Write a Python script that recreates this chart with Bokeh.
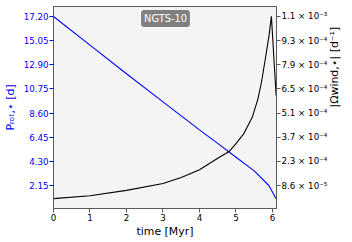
import math
from bokeh.plotting import figure
from bokeh.models import Range1d, LinearAxis, FixedTicker, Label
from bokeh.embed import file_html
from bokeh.resources import INLINE

# --- data ---
time_prot = [0.0, 1.0, 2.0, 3.0, 4.0, 4.5, 5.0, 5.5, 5.9, 6.1]
p_rot = [17.2, 14.65, 12.1, 9.6, 7.1, 5.9, 4.67, 3.45, 2.15, 0.97]

time_omega = [0.0, 1.0, 2.0, 3.0, 3.5, 4.0, 4.5, 4.81, 5.0, 5.22, 5.45, 5.6, 5.7, 5.81, 5.91, 5.97, 6.1]
omega_wind = [8.6e-6, 2.6e-5, 5.7e-5, 9.7e-5, 1.32e-4, 1.78e-4, 2.45e-4, 2.84e-4, 3.3e-4,
              3.9e-4, 4.86e-4, 5.9e-4, 6.9e-4, 8.33e-4, 9.68e-4, 1.074e-3, 6.1e-4]

x_ticks = [0, 1, 2, 3, 4, 5, 6]
left_ticks = [2.15, 4.30, 6.45, 8.60, 10.75, 12.90, 15.05, 17.20]
left_labels = ["2.15", "4.30", "6.45", "8.60", "10.75", "12.90", "15.05", "17.20"]
right_ticks = [8.55e-5, 2.265e-4, 3.675e-4, 5.085e-4, 6.495e-4, 7.905e-4, 9.315e-4, 1.0725e-3]
right_labels = ["8.6 × 10⁻⁵", "2.3 × 10⁻⁴", "3.7 × 10⁻⁴", "5.1 × 10⁻⁴",
                "6.5 × 10⁻⁴", "7.9 × 10⁻⁴", "9.3 × 10⁻⁴", "1.1 × 10⁻³"]
title_text = "NGTS-10"
x_label = "time [Myr]"
left_label = "Pᵣₒₜ,⋆ [d]"
right_label = "|Ωwind,⋆| [d⁻¹]"

FONT = "DejaVu Sans"
SPINE = "#5a5a5a"
TICK_FS = "8.7px"
LABEL_FS = "10.9px"

p = figure(width=352, height=242, output_backend="svg", toolbar_location=None,
           x_range=Range1d(0, 6.11), y_range=Range1d(0.102, 18.09),
           min_border_left=52, min_border_right=76, min_border_top=6, min_border_bottom=34)
p.background_fill_color = "#f4f4f4"
p.border_fill_color = "white"
p.outline_line_color = SPINE
p.xgrid.visible = False
p.ygrid.visible = False


def style_axis(ax, label, standoff, color=SPINE, label_color="black", tick_color=SPINE):
    ax.major_label_text_font = FONT
    ax.major_label_text_font_size = TICK_FS
    ax.major_label_text_color = label_color
    ax.major_label_standoff = 1
    ax.major_tick_out = 4
    ax.major_tick_in = 0
    ax.minor_tick_out = 0
    ax.minor_tick_in = 0
    ax.axis_line_color = color
    ax.major_tick_line_color = tick_color
    ax.axis_label = label
    ax.axis_label_text_font = FONT
    ax.axis_label_text_font_size = LABEL_FS
    ax.axis_label_text_font_style = "normal"
    ax.axis_label_text_color = label_color
    ax.axis_label_standoff = standoff


# x axis
xa = p.xaxis[0]
xa.ticker = FixedTicker(ticks=x_ticks)
style_axis(xa, x_label, 1)

# left axis
ya = p.yaxis[0]
ya.ticker = FixedTicker(ticks=left_ticks)
ya.major_label_overrides = dict(zip(left_ticks, left_labels))
style_axis(ya, left_label, 4, label_color="blue", tick_color="blue")

# right axis
p.extra_y_ranges = {"om": Range1d(-4.881e-5, 1.13087e-3)}
ra = LinearAxis(y_range_name="om", ticker=FixedTicker(ticks=right_ticks))
ra.major_label_overrides = dict(zip(right_ticks, right_labels))
style_axis(ra, right_label, 4)
try:
    ra.axis_label_orientation = math.pi / 2
except Exception:
    pass
p.add_layout(ra, "right")

p.line(time_prot, p_rot, color="blue", line_width=1.1)
p.line(time_omega, omega_wind, color="black", line_width=1.1, y_range_name="om")

lab = Label(x=112, y=190, x_units="screen", y_units="screen", text=title_text,
            text_align="center", text_baseline="middle",
            text_color="white", text_font=FONT, text_font_size="9.8px",
            background_fill_color="#808080", background_fill_alpha=1.0)
try:
    lab.border_radius = 3
    lab.padding = 3
except Exception:
    pass
p.add_layout(lab)

open("out.html", "w").write(file_html(p, INLINE))
